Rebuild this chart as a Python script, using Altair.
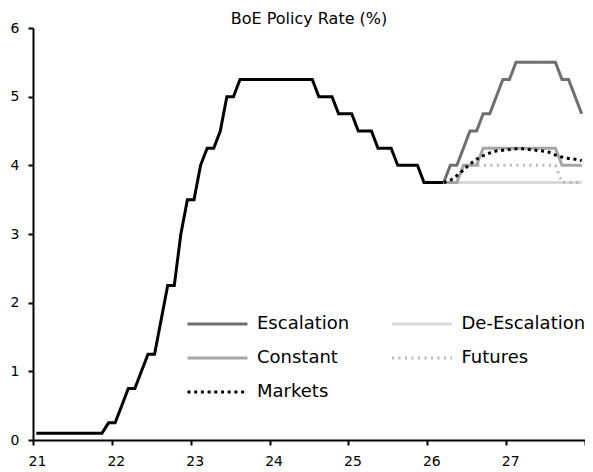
import pandas as pd
import altair as alt

# Monthly Bank Rate history, Jan 2021 - Mar 2026
hist_rate = [
    0.1, 0.1, 0.1, 0.1, 0.1, 0.1, 0.1, 0.1, 0.1, 0.1, 0.1, 0.25,
    0.25, 0.5, 0.75, 0.75, 1.0, 1.25, 1.25, 1.75, 2.25, 2.25, 3.0, 3.5,
    3.5, 4.0, 4.25, 4.25, 4.5, 5.0, 5.0, 5.25, 5.25, 5.25, 5.25, 5.25,
    5.25, 5.25, 5.25, 5.25, 5.25, 5.25, 5.25, 5.0, 5.0, 5.0, 4.75, 4.75,
    4.75, 4.5, 4.5, 4.5, 4.25, 4.25, 4.25, 4.0, 4.0, 4.0, 4.0, 3.75,
    3.75, 3.75, 3.75,
]
hist_start = "2021-01"

# Scenario paths, Mar 2026 - Dec 2027
scen_start = "2026-03"
escalation = [3.75, 4.0, 4.0, 4.25, 4.5, 4.5, 4.75, 4.75, 5.0, 5.25,
              5.25, 5.5, 5.5, 5.5, 5.5, 5.5, 5.5, 5.5, 5.25, 5.25, 5.0, 4.75]
de_escalation = [3.75, 3.75, 3.75, 3.75, 3.75, 3.75, 3.75, 3.75, 3.75, 3.75,
                 3.75, 3.75, 3.75, 3.75, 3.75, 3.75, 3.75, 3.75, 3.75, 3.75, 3.75, 3.75]
constant = [3.75, 3.75, 3.75, 4.0, 4.0, 4.0, 4.25, 4.25, 4.25, 4.25,
            4.25, 4.25, 4.25, 4.25, 4.25, 4.25, 4.25, 4.25, 4.0, 4.0, 4.0, 4.0]
futures = [3.75, 3.75, 3.75, 4.0, 4.0, 4.0, 4.0, 4.0, 4.0, 4.0,
           4.0, 4.0, 4.0, 4.0, 4.0, 4.0, 4.0, 4.0, 3.75, 3.75, 3.75, 3.75]
markets = [3.75, 3.78, 3.85, 3.93, 4.02, 4.09, 4.14, 4.18, 4.21, 4.22,
           4.23, 4.24, 4.24, 4.23, 4.22, 4.21, 4.19, 4.15, 4.12, 4.10, 4.09, 4.07]

series_order = ["Escalation", "De-Escalation", "Constant", "Futures", "Markets"]
series_colors = ["#6f6f6f", "#d9d9d9", "#a5a5a5", "#b9b9b9", "#000000"]
series_dash = [[1, 0], [1, 0], [1, 0], [2, 4.5], [3, 3.7]]
series_width = [3, 3, 3, 2.5, 3]


def year_frac(start, n):
    months = pd.period_range(start, periods=n, freq="M")
    return [(p.year - 2000) + (p.month - 0.5) / 12 for p in months]


hist = pd.DataFrame({"t": year_frac(hist_start, len(hist_rate)), "rate": hist_rate})

# drawing order: later rows end up on top
scen_data = {
    "De-Escalation": de_escalation,
    "Futures": futures,
    "Constant": constant,
    "Escalation": escalation,
    "Markets": markets,
}
frames = []
for name, vals in scen_data.items():
    frames.append(pd.DataFrame({
        "t": year_frac(scen_start, len(vals)),
        "rate": vals,
        "series": name,
    }))
scen = pd.concat(frames, ignore_index=True)

x = alt.X(
    "t:Q", title=None,
    scale=alt.Scale(domain=[21, 28], nice=False, zero=False),
    axis=alt.Axis(values=[21, 22, 23, 24, 25, 26, 27, 28], format="d",
                  labelExpr="datum.value == 28 ? '' : datum.label",
                  labelOffset=4, labelPadding=9, labelFlush=False, grid=False),
)
y = alt.Y(
    "rate:Q", title=None,
    scale=alt.Scale(domain=[0, 6], nice=False),
    axis=alt.Axis(values=[0, 1, 2, 3, 4, 5, 6], labelPadding=9, grid=False),
)

history = alt.Chart(hist).mark_line(color="black", strokeWidth=3).encode(x=x, y=y)

legend_opts = dict(
    title=None, orient="none", legendX=153, legendY=286,
    direction="horizontal", columns=2, columnPadding=40.5, rowPadding=14,
    clipHeight=20,
    symbolType="stroke", symbolSize=3600, symbolStrokeWidth=3,
    labelFont="DejaVu Sans", labelFontSize=18, labelColor="black",
    labelOffset=8, padding=0,
)

scenarios = (
    alt.Chart(scen)
    .mark_line()
    .encode(
        x=x,
        y=y,
        color=alt.Color(
            "series:N",
            scale=alt.Scale(domain=series_order, range=series_colors),
            legend=alt.Legend(**legend_opts),
        ),
        strokeDash=alt.StrokeDash(
            "series:N",
            scale=alt.Scale(domain=series_order, range=series_dash),
            legend=alt.Legend(**legend_opts),
        ),
        strokeWidth=alt.StrokeWidth(
            "series:N",
            scale=alt.Scale(domain=series_order, range=series_width),
            legend=None,
        ),
    )
)

chart = (
    alt.layer(history, scenarios)
    .properties(
        width=552,
        height=412,
        autosize=alt.AutoSizeParams(type="none"),
        padding={"left": 25, "top": 20, "right": 0, "bottom": 30},
        title=alt.TitleParams(
            "BoE Policy Rate (%)", font="DejaVu Sans", fontSize=16,
            fontWeight="normal", color="black", anchor="middle",
            frame="group", offset=-6,
        ),
    )
    .configure_view(stroke=None)
    .configure_axis(
        domainColor="black", domainWidth=2, tickColor="black", tickWidth=2,
        tickSize=5, labelColor="black", labelFont="DejaVu Sans", labelFontSize=14,
    )
)

chart.save("out.html", embed_options={"renderer": "svg", "actions": False})
